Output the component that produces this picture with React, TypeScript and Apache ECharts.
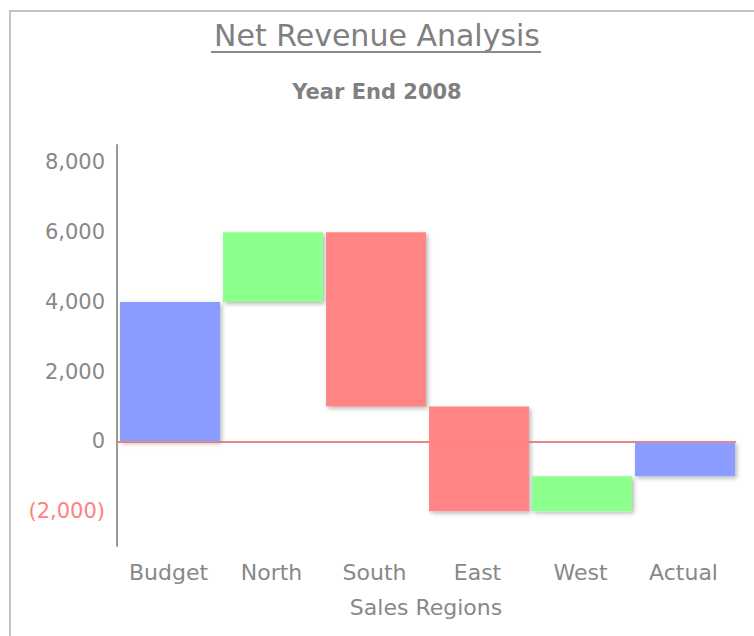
import React, { useEffect, useRef } from "react";
import * as echarts from "echarts";

const categories = ["Budget", "North", "South", "East", "West", "Actual"];
// step values: totals are absolute, others are changes
const stepValues = [4000, 2000, -5000, -3000, 1000, -1000];
const stepKinds = ["total", "change", "change", "change", "change", "total"];
const yTickLabels = [-2000, 0, 2000, 4000, 6000, 8000];

const FONT = "DejaVu Sans, Verdana, sans-serif";
const COLORS: Record<string, string> = {
  total: "#8a9cff",
  up: "#8cff8c",
  down: "#ff8484",
};

function buildData() {
  const out: any[] = [];
  let run = 0;
  stepValues.forEach((v, i) => {
    let low: number, high: number, kind: string;
    if (stepKinds[i] === "total") {
      low = Math.min(0, v);
      high = Math.max(0, v);
      run = v;
      kind = "total";
    } else {
      const next = run + v;
      low = Math.min(run, next);
      high = Math.max(run, next);
      kind = v >= 0 ? "up" : "down";
      run = next;
    }
    out.push({ value: [i, low, high], kind });
  });
  return out;
}

function fmt(n: number) {
  return Math.abs(n).toLocaleString("en-US");
}

export default function App() {
  const ref = useRef<HTMLDivElement>(null);
  useEffect(() => {
    if (!ref.current) return;
    const chart = echarts.init(ref.current, undefined, { renderer: "svg" });
    const data = buildData();
    chart.setOption({
      animation: false,
      backgroundColor: "#ffffff",
      graphic: [
        {
          type: "text",
          left: "center",
          top: 20,
          style: {
            text: "Net Revenue Analysis",
            fill: "#808080",
            font: `30px ${FONT}`,
          },
        },
        {
          type: "line",
          shape: { x1: 211, y1: 52, x2: 541, y2: 52 },
          style: { stroke: "#8a8a8a", lineWidth: 2 },
        },
        {
          type: "text",
          left: "center",
          top: 81,
          style: {
            text: "Year End 2008",
            fill: "#808080",
            font: `bold 21px ${FONT}`,
          },
        },
      ],
      grid: { left: 117, top: 145, width: 618, height: 401 },
      xAxis: {
        type: "category",
        data: categories,
        boundaryGap: true,
        axisLine: { show: true, lineStyle: { color: "#999999", width: 2 } },
        axisTick: { show: false },
        axisLabel: {
          color: "#888888",
          fontFamily: FONT,
          fontSize: 22,
          margin: 15,
        },
        name: "Sales Regions",
        nameLocation: "middle",
        nameGap: 50,
        nameTextStyle: { color: "#888888", fontFamily: FONT, fontSize: 22 },
        splitLine: { show: false },
      },
      yAxis: {
        type: "value",
        min: -3000,
        max: 8500,
        interval: 1000,
        axisLine: { show: true, lineStyle: { color: "#999999", width: 2 } },
        axisTick: { show: false },
        splitLine: { show: false },
        axisLabel: {
          fontFamily: FONT,
          fontSize: 21,
          margin: 12,
          showMaxLabel: false,
          color: (v: any) => (Number(v) < 0 ? "#ff8080" : "#888888"),
          formatter: (v: number) => {
            if (!yTickLabels.includes(v)) return "";
            if (v === 0) return "0";
            return v < 0 ? `(${fmt(v)})` : fmt(v);
          },
        },
      },
      series: [
        {
          type: "line",
          data: [],
          z: 1,
          markLine: {
            silent: true,
            symbol: "none",
            label: { show: false },
            lineStyle: { color: "#ff8080", width: 1.5, type: "solid" },
            data: [{ yAxis: 0 }],
          },
        },
        {
          type: "custom",
          z: 2,
          encode: { x: 0, y: [1, 2] },
          data,
          renderItem: (params: any, api: any) => {
            const idx = api.value(0);
            const low = api.value(1);
            const high = api.value(2);
            const p1 = api.coord([idx, high]);
            const p2 = api.coord([idx, low]);
            const w = api.size([1, 0])[0] * 0.97;
            const kind = data[params.dataIndex].kind;
            return {
              type: "rect",
              shape: { x: p1[0] - w / 2 + 1.5, y: p1[1], width: w, height: p2[1] - p1[1] },
              style: {
                fill: COLORS[kind],
                shadowBlur: 4,
                shadowOffsetX: 2,
                shadowOffsetY: 2,
                shadowColor: "rgba(0,0,0,0.28)",
              },
            };
          },
        },
      ],
    });
    return () => chart.dispose();
  }, []);

  return (
    <>
      <div
        ref={ref}
        style={{ position: "absolute", left: 0, top: 0, width: 754, height: 636 }}
      />
      <div
        style={{
          position: "absolute",
          left: 9,
          top: 10,
          width: 743,
          height: 624,
          borderLeft: "2px solid #c4c4c4",
          borderTop: "2px solid #c4c4c4",
          pointerEvents: "none",
        }}
      />
    </>
  );
}
